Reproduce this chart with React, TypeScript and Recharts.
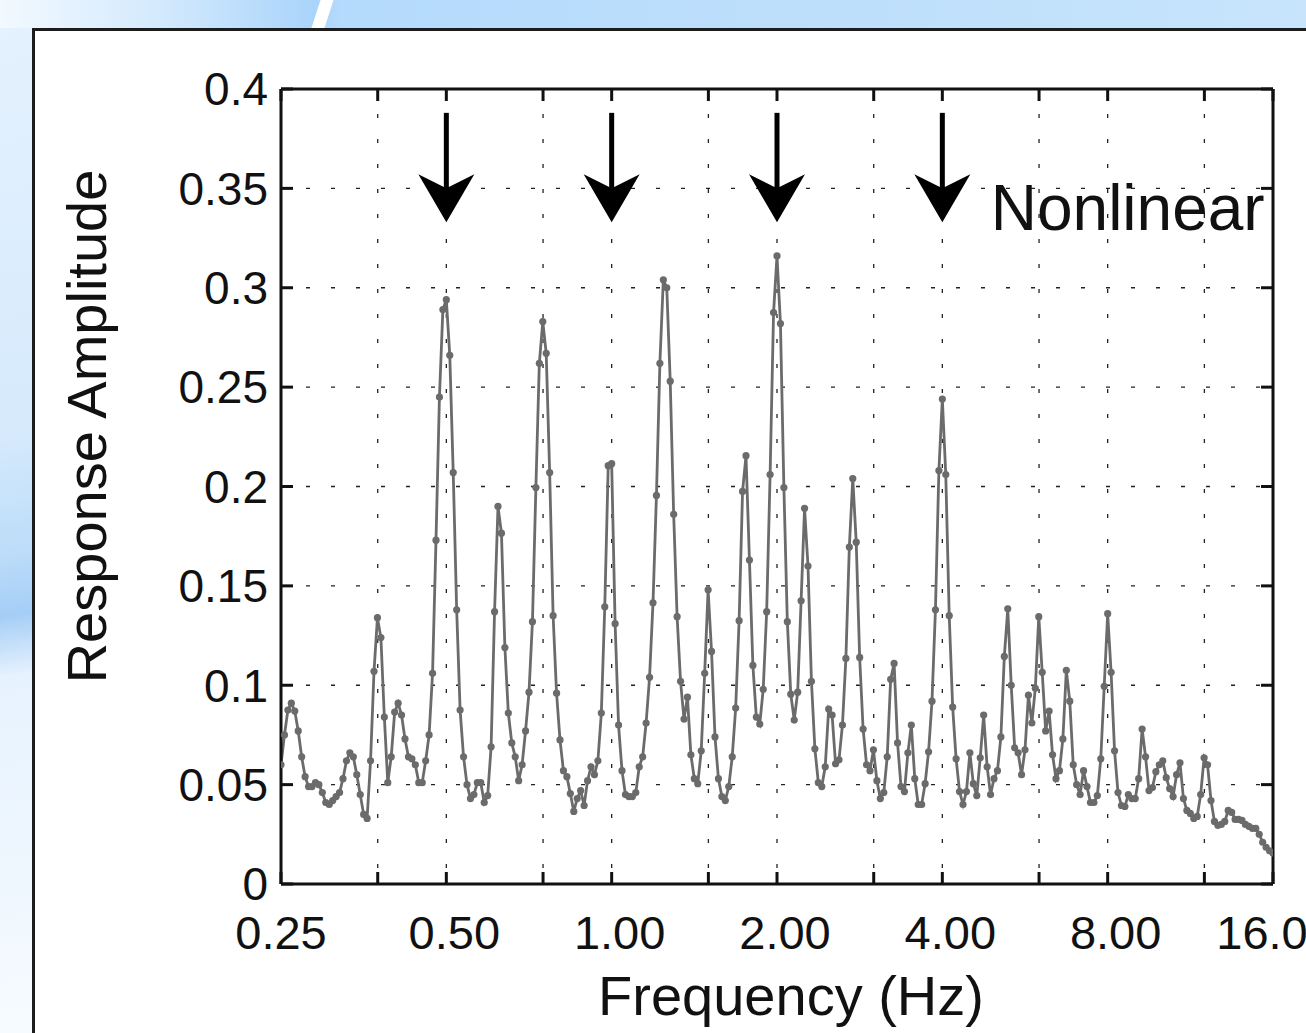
import React from "react";
import { CartesianGrid, Line, LineChart, ReferenceDot, ReferenceLine, XAxis, YAxis } from "recharts";

// amplitude samples, 48 per octave
const octave1 = [
  0.06, 0.075, 0.0875, 0.091, 0.087, 0.077, 0.064, 0.054, 0.049, 0.049, 0.051, 0.05,
  0.046, 0.041, 0.04, 0.042, 0.044, 0.046, 0.053, 0.062, 0.066, 0.064, 0.055, 0.045,
  0.035, 0.033, 0.062, 0.107, 0.134, 0.124, 0.084, 0.051, 0.064, 0.0865, 0.091, 0.085,
  0.073, 0.064, 0.063, 0.06, 0.051, 0.051, 0.062, 0.075, 0.106, 0.173, 0.245, 0.289,
];
const octave2 = [
  0.294, 0.266, 0.207, 0.138, 0.0875, 0.064, 0.05, 0.043, 0.045, 0.051, 0.051, 0.041,
  0.0445, 0.069, 0.137, 0.19, 0.1765, 0.119, 0.086, 0.071, 0.064, 0.052, 0.06, 0.077,
  0.0965, 0.132, 0.1995, 0.262, 0.283, 0.267, 0.207, 0.135, 0.096, 0.0725, 0.057, 0.054,
  0.0455, 0.0365, 0.043, 0.047, 0.0395, 0.052, 0.059, 0.055, 0.062, 0.086, 0.1395, 0.2105,
];
const octave3 = [
  0.2115, 0.131, 0.08, 0.057, 0.045, 0.044, 0.044, 0.046, 0.059, 0.064, 0.081, 0.104,
  0.1415, 0.1955, 0.262, 0.304, 0.3, 0.253, 0.186, 0.1345, 0.102, 0.083, 0.094, 0.065,
  0.053, 0.0505, 0.067, 0.106, 0.148, 0.117, 0.074, 0.053, 0.044, 0.042, 0.049, 0.064,
  0.0885, 0.1325, 0.1975, 0.2155, 0.163, 0.11, 0.084, 0.0805, 0.098, 0.137, 0.206, 0.2875,
];
const octave4 = [
  0.316, 0.282, 0.1995, 0.132, 0.0955, 0.0825, 0.0965, 0.1425, 0.189, 0.16, 0.102, 0.068,
  0.051, 0.049, 0.059, 0.088, 0.085, 0.0605, 0.0625, 0.08, 0.1135, 0.1695, 0.204, 0.172,
  0.114, 0.078, 0.06, 0.057, 0.0675, 0.052, 0.043, 0.046, 0.064, 0.103, 0.111, 0.071,
  0.049, 0.0465, 0.066, 0.08, 0.053, 0.04, 0.04, 0.0505, 0.0665, 0.092, 0.138, 0.208,
];
const octave5 = [
  0.244, 0.206, 0.135, 0.089, 0.063, 0.0465, 0.04, 0.0465, 0.066, 0.0505, 0.0445, 0.0635,
  0.085, 0.059, 0.045, 0.053, 0.057, 0.074, 0.1145, 0.1385, 0.1, 0.0685, 0.066, 0.055,
  0.0675, 0.095, 0.081, 0.0985, 0.1345, 0.1065, 0.077, 0.087, 0.065, 0.053, 0.057, 0.073,
  0.1075, 0.092, 0.06, 0.05, 0.045, 0.057, 0.049, 0.041, 0.041, 0.0445, 0.063, 0.0995,
];
const octave6 = [
  0.136, 0.1065, 0.067, 0.046, 0.0395, 0.039, 0.045, 0.043, 0.043, 0.053, 0.078, 0.064,
  0.047, 0.0485, 0.0565, 0.06, 0.062, 0.0535, 0.048, 0.044, 0.055, 0.061, 0.043, 0.037,
  0.0355, 0.033, 0.034, 0.045, 0.0635, 0.06, 0.042, 0.0315, 0.0295, 0.03, 0.0315, 0.037,
  0.036, 0.0325, 0.0325, 0.032, 0.03, 0.029, 0.028, 0.028, 0.025, 0.021, 0.0185, 0.0167,
  0.0157,
];

const F_START = 0.25;
const PER_OCTAVE = 48;
const amplitude = [...octave1, ...octave2, ...octave3, ...octave4, ...octave5, ...octave6];
const data = amplitude.map((amp, i) => ({ freq: F_START * Math.pow(2, i / PER_OCTAVE), amp }));

const xTicks = [0.25, 0.375, 0.5, 0.75, 1, 1.5, 2, 3, 4, 6, 8, 12, 16];
const xLabels: Record<string, string> = {
  "0.25": "0.25",
  "0.5": "0.50",
  "1": "1.00",
  "2": "2.00",
  "4": "4.00",
  "8": "8.00",
  "16": "16.0",
};
const yTicks = [0, 0.05, 0.1, 0.15, 0.2, 0.25, 0.3, 0.35, 0.4];
const arrowFreqs = [0.5, 1, 2, 4];
const ARROW_TOP = 0.388;
const ARROW_TIP = 0.333;

const FONT = '"Liberation Sans", Arial, Helvetica, sans-serif';
const INK = "#111";
const GRAY = "#6b6b6b";

// the original's x labels sit a little right of their ticks (last one left)
const labelShift = (v: number) => (v === 0.25 ? 0 : v === 16 ? -11 : 8);
const fmtY = (v: number) => (v === 0 ? "0" : String(Number(v.toFixed(2))));

const XTick = (p: any) => {
  const v = p.payload?.value;
  const text = xLabels[String(v)];
  if (!text) return null;
  return (
    <text
      x={p.x + labelShift(v)}
      y={p.y}
      dy="0.71em"
      textAnchor="middle"
      fontSize={47}
      fontFamily={FONT}
      fill={INK}
    >
      {text}
    </text>
  );
};

const Arrow = (p: any) => {
  const x = p.x1;
  const top = Math.min(p.y1, p.y2);
  const tip = Math.max(p.y1, p.y2);
  return (
    <g>
      <line x1={x} y1={top} x2={x} y2={tip - 28} stroke="#000" strokeWidth={5} />
      <polygon
        points={`${x},${tip} ${x - 28},${tip - 48} ${x},${tip - 34} ${x + 28},${tip - 48}`}
        fill="#000"
      />
    </g>
  );
};

const NonlinearText = (p: any) => (
  <text x={p.cx} y={p.cy} fontSize={64} fontFamily={FONT} fill={INK}>
    Nonlinear
  </text>
);

export default function App() {
  return (
    <div
      style={{
        position: "absolute",
        left: 0,
        top: 0,
        width: 1306,
        height: 1033,
        overflow: "hidden",
        background:
          "linear-gradient(90deg, #f2f9ff 0%, #d4eafd 12%, #aad4fb 24%, #b4dafc 26%, #c7e4fb 100%)",
      }}
    >
      <div
        style={{
          position: "absolute",
          left: 0,
          top: 28,
          width: 34,
          height: 1010,
          background:
            "linear-gradient(172deg, #e4f1fe 0%, #d6eafc 40%, #bcdcf9 52%, #a5cef6 58%, #e6f2fe 64%, #f6fbff 100%)",
        }}
      />
      <div
        style={{
          position: "absolute",
          left: 316,
          top: -4,
          width: 13,
          height: 36,
          background: "#fff",
          transform: "skewX(-18deg)",
        }}
      />
      <div
        style={{
          position: "absolute",
          left: 32,
          top: 28,
          width: 1300,
          height: 1010,
          background: "#fff",
          borderLeft: "3px solid #1c1c1c",
          borderTop: "3px solid #1c1c1c",
        }}
      />
      <LineChart
        width={1306}
        height={1033}
        data={data}
        margin={{ top: 88, right: 32, bottom: 0, left: 100 }}
        style={{ position: "absolute", left: 0, top: 0 }}
      >
        <CartesianGrid stroke="#222" strokeWidth={1.3} strokeDasharray="4 21" />
        <XAxis
          dataKey="freq"
          type="number"
          scale="log"
          domain={[0.25, 16]}
          allowDataOverflow
          ticks={xTicks}
          interval={0}
          tickSize={-12}
          tickMargin={44}
          height={149}
          axisLine={{ stroke: INK, strokeWidth: 3 }}
          tickLine={{ stroke: INK, strokeWidth: 3 }}
          tick={XTick}
          label={{
            content: (props: any) => {
              const vb = props.viewBox ?? { x: 281, y: 884, width: 992, height: 149 };
              return (
                <text
                  x={vb.x + vb.width / 2 + 14}
                  y={vb.y + 131}
                  textAnchor="middle"
                  fontSize={56}
                  fontFamily={FONT}
                  fill={INK}
                >
                  Frequency (Hz)
                </text>
              );
            },
          }}
        />
        <XAxis
          xAxisId="top"
          orientation="top"
          dataKey="freq"
          type="number"
          scale="log"
          domain={[0.25, 16]}
          allowDataOverflow
          ticks={xTicks}
          interval={0}
          tickFormatter={() => ""}
          tickSize={-12}
          height={1}
          axisLine={{ stroke: INK, strokeWidth: 3 }}
          tickLine={{ stroke: INK, strokeWidth: 3 }}
        />
        <YAxis
          type="number"
          domain={[0, 0.4]}
          allowDataOverflow
          ticks={yTicks}
          interval={0}
          tickFormatter={fmtY}
          tickSize={-12}
          tickMargin={25}
          width={181}
          axisLine={{ stroke: INK, strokeWidth: 3 }}
          tickLine={{ stroke: INK, strokeWidth: 3 }}
          tick={{ fontSize: 46, fill: INK, fontFamily: FONT }}
          label={{
            content: (props: any) => {
              const vb = props.viewBox ?? { x: 100, y: 89, width: 181, height: 795 };
              const x = vb.x + 6;
              const y = vb.y + vb.height / 2 - 60;
              return (
                <text
                  x={x}
                  y={y}
                  transform={`rotate(-90 ${x} ${y})`}
                  textAnchor="middle"
                  fontSize={56}
                  fontFamily={FONT}
                  fill={INK}
                >
                  Response Amplitude
                </text>
              );
            },
          }}
        />
        <YAxis
          yAxisId="right"
          orientation="right"
          type="number"
          domain={[0, 0.4]}
          allowDataOverflow
          ticks={yTicks}
          interval={0}
          tickFormatter={() => ""}
          tickSize={-12}
          width={1}
          axisLine={{ stroke: INK, strokeWidth: 3 }}
          tickLine={{ stroke: INK, strokeWidth: 3 }}
        />
        <Line
          type="linear"
          dataKey="amp"
          stroke={GRAY}
          strokeWidth={2.8}
          dot={{ r: 3.6, fill: GRAY, stroke: "none" }}
          activeDot={false}
          isAnimationActive={false}
        />
        {arrowFreqs.map((f) => (
          <ReferenceLine
            key={f}
            segment={[
              { x: f, y: ARROW_TOP },
              { x: f, y: ARROW_TIP },
            ]}
            shape={Arrow}
          />
        ))}
        <ReferenceDot x={4.9} y={0.329} r={1} shape={NonlinearText} />
      </LineChart>
    </div>
  );
}
